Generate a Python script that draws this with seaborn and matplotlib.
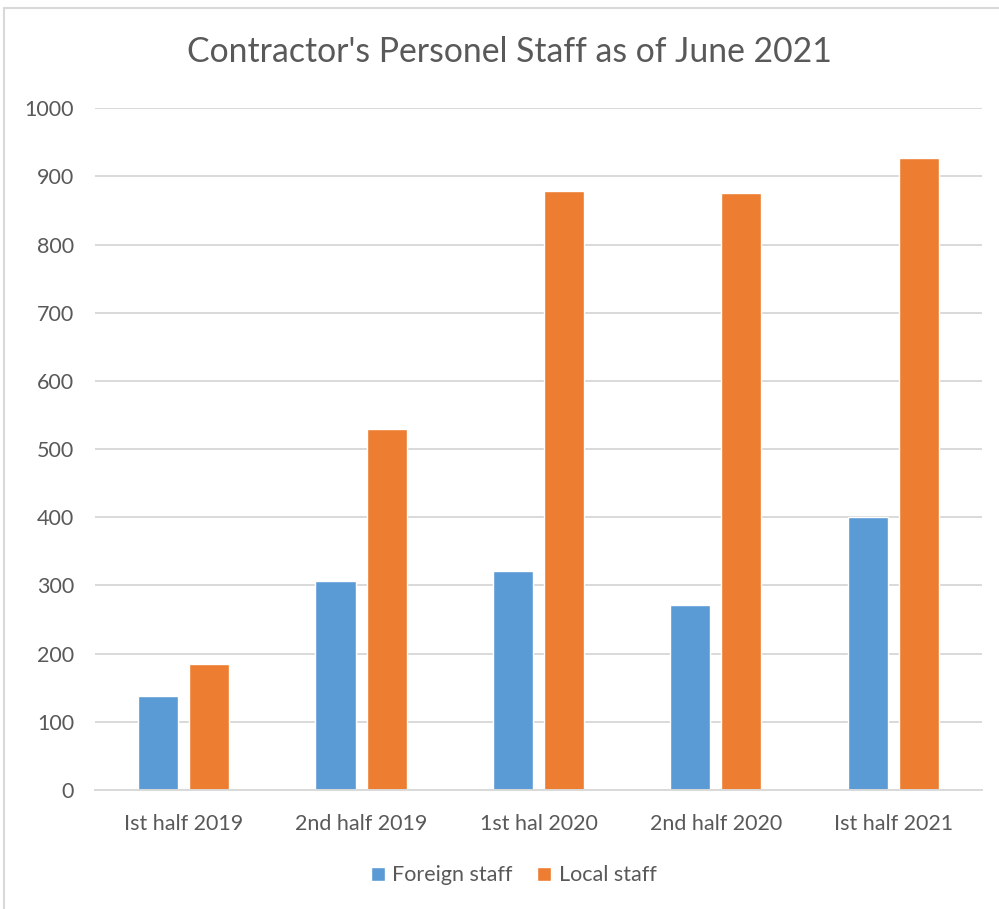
import matplotlib
matplotlib.use("Agg")
import matplotlib.pyplot as plt
from matplotlib.lines import Line2D
import pandas as pd
import seaborn as sns

periods = ["Ist half 2019", "2nd half 2019", "1st hal 2020", "2nd half 2020", "Ist half 2021"]
foreign_staff = [138, 306, 321, 271, 400]
local_staff = [185, 530, 878, 875, 927]

data = pd.DataFrame({
    "period": periods * 2,
    "staff": foreign_staff + local_staff,
    "type": ["Foreign staff"] * len(periods) + ["Local staff"] * len(periods),
})

sns.set_style("white")
plt.rcParams["font.family"] = ["Lato", "DejaVu Sans"]

fig = plt.figure(figsize=(9.99, 9.09), dpi=100)
ax = fig.add_axes([0.095, 0.131, 0.888, 0.750])

sns.barplot(data=data, x="period", y="staff", hue="type",
            palette=["#5B9BD5", "#ED7D31"], width=0.576, gap=0.216,
            saturation=1, ax=ax)

ax.set_ylim(0, 1000)
ax.set_yticks(range(0, 1001, 100))
ax.yaxis.grid(True, color="#d9d9d9", lw=1.4)
ax.set_axisbelow(True)
for s in ["top", "right", "left"]:
    ax.spines[s].set_visible(False)
ax.spines["bottom"].set_color("#d9d9d9")
ax.spines["bottom"].set_linewidth(1.4)
ax.tick_params(axis="both", length=0, labelsize=15.5, labelcolor="#595959")
ax.tick_params(axis="y", pad=15)
ax.tick_params(axis="x", pad=17)
ax.set_xlabel("")
ax.set_ylabel("")

fig.text(0.51, 0.943, "Contractor's Personel Staff as of June 2021",
         ha="center", va="center", fontsize=24.3, color="#595959")

handles, labels = ax.get_legend_handles_labels()
ax.legend(handles, labels, loc="center", bbox_to_anchor=(0.514, 0.037),
          bbox_transform=fig.transFigure, ncol=2, frameon=False,
          fontsize=15.5, labelcolor="#595959", handlelength=0.65, handleheight=0.65,
          handletextpad=0.35, columnspacing=1.15)

# outer chart border (top and left edges visible in the crop)
fig.add_artist(Line2D([0.004, 1.0], [0.991, 0.991], color="#d9d9d9", lw=1.5))
fig.add_artist(Line2D([0.004, 0.004], [0.0, 0.991], color="#d9d9d9", lw=1.5))

fig.savefig("out.png", dpi=100)
